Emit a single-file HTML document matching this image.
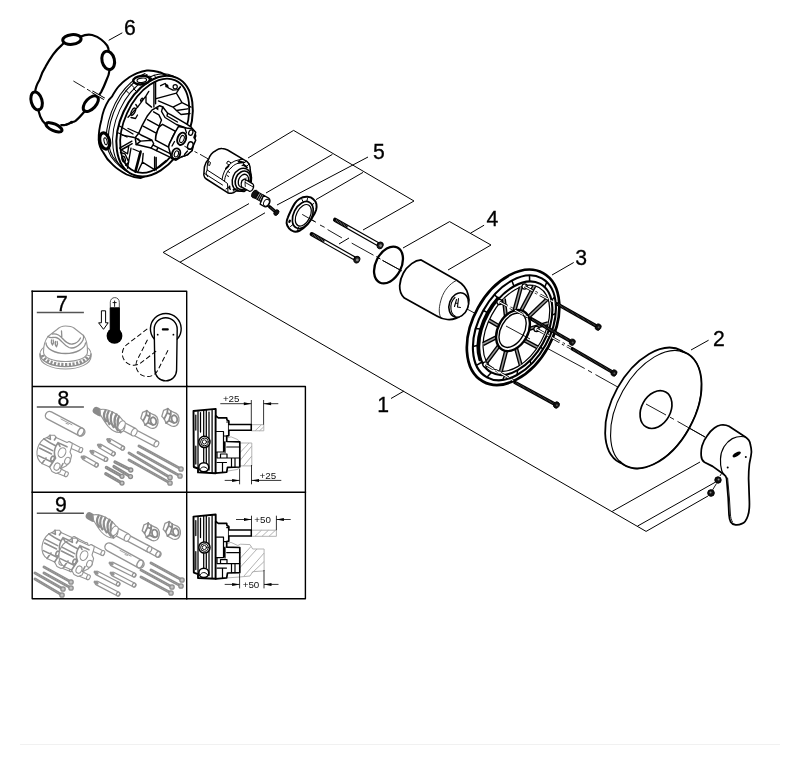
<!DOCTYPE html>
<html><head><meta charset="utf-8"><title>Exploded view</title>
<style>
html,body{margin:0;padding:0;background:#fff;}
body{width:800px;height:765px;overflow:hidden;font-family:"Liberation Sans",sans-serif;}
svg{display:block;filter:grayscale(1)}
.k{stroke:#000;fill:none;stroke-width:1.3;stroke-linecap:round;stroke-linejoin:round}
.t{stroke:#000;fill:none;stroke-width:1;stroke-linecap:butt}
.w{fill:#fff}
.g{stroke:#959595;fill:none;stroke-width:1.1;stroke-linecap:round;stroke-linejoin:round}
.gw{stroke:#959595;fill:#fff;stroke-width:1.1;stroke-linecap:round;stroke-linejoin:round}
.lab{font-family:"Liberation Sans",sans-serif;font-size:21.2px;fill:#000;stroke:#000;stroke-width:0.3px}
.dim{font-family:"Liberation Sans",sans-serif;font-size:9.8px;fill:#111}
.cl{stroke:#000;fill:none;stroke-width:0.8;stroke-dasharray:14 3 3 3}
</style></head>
<body>
<svg width="800" height="765" viewBox="0 0 800 765">
<rect width="800" height="765" fill="#fff"/>
<line x1="20" y1="744.5" x2="780" y2="744.5" stroke="#f1f1f1" stroke-width="1"/>

<!-- ===== bracket / leader lines ===== -->
<g class="t" id="leaders">
<path d="M163.1 252.4 L646.1 531.4"/>
<path d="M163.1 252.4 L249 203.6"/>
<path d="M180 262.2 L265 212.8"/>
<path d="M646.1 531.4 L708 496"/>
<path d="M637.5 526.1 L715 482.4"/>
<path d="M612.2 511.4 L700 462"/>
<path d="M391 398.5 L404 391"/>
<path d="M248 158 L293.6 130.4 L414 201 L363 230"/>
<path d="M349 238 L339 244"/>
<path d="M266 193 L332.4 154.4"/>
<path d="M277 205 L368 157"/>
<path d="M363 172.4 L316 199.6"/>
<path d="M403 248 L449.6 221.6 L491 245 L448 270"/>
<path d="M470.5 233.2 L484.1 225.2"/>
<path d="M552 275 L573.7 262.5"/>
<path d="M691 350 L708.6 340.2"/>
</g>

<!-- ===== labels ===== -->
<g class="lab">
<text x="123.9" y="34.9">6</text>
<text x="372.9" y="159">5</text>
<text x="486.4" y="225.7">4</text>
<text x="575.2" y="264.7">3</text>
<text x="712.9" y="345.9">2</text>
<text x="377.2" y="411.9">1</text>
<text x="56" y="311.2">7</text>
<text x="57.4" y="406">8</text>
<text x="55" y="512.3">9</text>
</g>

<!-- ===== inset boxes ===== -->
<g class="k" style="stroke-width:1.4;stroke-linecap:square">
<path d="M32.2 291.3 H186.7 V386"/>
<path d="M32.2 291.3 V598.8 H305.4 V386.5 H32.2"/>
<path d="M32.2 492.3 H305.4"/>
<path d="M186.7 386 V598.8"/>
</g>
<g class="t" style="stroke-width:1.3;stroke:#555">
<path d="M36.8 312.5 H83.9"/>
<path d="M36.8 407 H83.9"/>
<path d="M36.8 513.25 H83.9"/>
</g>

<!-- ===== axis centre line ===== -->
<g class="t" id="axis" style="stroke-width:0.9">
<path d="M73.4 81 L84.7 87.7 M87 89.2 L90.7 91.4"/>
<path d="M194.5 151.5 L197.5 153 M200 154.3 L208 158.8"/>
<path d="M302 214.5 L315.6 222 M320 225 L324.6 227.3 M327.6 229.6 L341.9 237.9 M351.7 243.1 L373.5 255.2 M376.5 256.7 L380.3 259 M382.5 260.4 L402 271"/>
<path d="M467 309 L475 313.3"/>
<path d="M617 386.5 L646 404 L666 415 M670 417.2 L674 419.4 M677.5 421.4 L705 437"/>
</g>

<!-- ===== O-ring (4) ===== -->
<ellipse cx="388.5" cy="265" rx="12.8" ry="19.6" transform="rotate(27 388.5 265)" class="k" style="stroke-width:2.3"/>
<path class="t" style="stroke-width:0.9" d="M376.5 256.7 L380.3 259 M382.5 260.4 L400 270"/>

<!-- ===== sleeve (4) ===== -->
<g id="sleeve">
<path class="k w" style="stroke-width:1.75" d="M421.1 259.9 L456.7 280.3 C463 284 467 289 468.2 295 C469.2 298 469.2 301 468.2 304.4 C467.5 309 465 312.5 461.9 314.8 C458 318 453 320 447.3 319.5 C443 319 439.5 317.5 436.8 315.9 L404.4 298.1 C401 295 399.5 290.5 399.7 285.6 C400 281 401.2 277 403.4 273 C405.5 269 408.5 266 411.7 263.6 C414.5 261.5 418 260 421.1 259.9 Z"/>
<path d="M456.7 280.3 C449 284 444 291 441.6 298 C439 306 438.5 312 440.5 317.3" stroke="#222" stroke-width="0.9" fill="none"/>
<ellipse cx="458.7" cy="305" rx="9.4" ry="12.6" transform="rotate(20 458.7 305)" class="k w" style="stroke-width:1.6"/>
<path class="k" style="stroke-width:1.1" d="M455 297.5 C452 300 450.5 305 451 309.5 C451.5 312.5 453 315 455 316"/>
<path class="k" style="stroke-width:1.1" d="M456.5 299.5 L454.5 306.5 M458.5 298.5 L457.5 307 L460.5 307.5 M455.5 303 L458 303.5"/>
</g>


<!-- ===== bolts (5) ===== -->
<path d="M335.1 219.8 L378.4 244.4" stroke="#000" stroke-width="4.2" stroke-linecap="round" fill="none"/>
<path d="M347.7 227 L377.1 243.7" stroke="#fff" stroke-width="1.9" stroke-linecap="butt" fill="none"/>
<path d="M336 220.3 L347.7 227" stroke="#888" stroke-width="2.2" stroke-dasharray="0.6 1.0" fill="none"/>
<ellipse cx="380.2" cy="245.4" rx="2.7" ry="3.4" transform="rotate(29.6 380.2 245.4)" fill="#222" stroke="#000" stroke-width="1"/>
<circle cx="380.6" cy="245.6" r="1.4" fill="#8a8a8a"/>
<path d="M311.8 234.1 L355.1 258.7" stroke="#000" stroke-width="4.2" stroke-linecap="round" fill="none"/>
<path d="M324.4 241.3 L353.8 258" stroke="#fff" stroke-width="1.9" stroke-linecap="butt" fill="none"/>
<path d="M312.7 234.6 L324.4 241.3" stroke="#888" stroke-width="2.2" stroke-dasharray="0.6 1.0" fill="none"/>
<ellipse cx="356.9" cy="259.7" rx="2.7" ry="3.4" transform="rotate(29.6 356.9 259.7)" fill="#222" stroke="#000" stroke-width="1"/>
<circle cx="357.3" cy="259.9" r="1.4" fill="#8a8a8a"/>

<!-- ===== cover plate (2) ===== -->
<g id="cover">
<ellipse cx="650.6" cy="406.6" rx="38" ry="64" transform="rotate(29 650.6 406.6)" class="k w" style="stroke-width:1.8"/>
<ellipse cx="656" cy="409.5" rx="38" ry="64" transform="rotate(29 656 409.5)" class="k w" style="stroke-width:1.1"/>
<path class="k" style="stroke-width:1.8" d="M680.8 351.2 A38 64 29 1 1 619.7 461.4"/>
<ellipse cx="656" cy="409.6" rx="14.5" ry="20" transform="rotate(29 656 409.6)" class="k w" style="stroke-width:1.7"/>
<path class="t" style="stroke-width:0.9" d="M646 404 L666 415 M670 417.2 L674 419.4 M677.5 421.4 L705 437"/>
</g>


<!-- ===== handle ===== -->
<g id="handle">
<path class="k w" style="stroke-width:1.75" d="M720.8 425 C724 424.6 727 425.2 729 426.3 L745.4 437 C748.5 439 750 441.5 750.3 444.3 C751 447 751.6 450 751.4 452.5 C751 457 750 460 749.4 464 C748.8 469 748.6 473 748.6 478.6 L749.4 501.5 C749.6 508 749.3 512 747.8 516 C746.5 520 744.5 522.8 742 523.6 C740 524.6 737.5 525.2 735.6 524.9 C733.5 524.5 731.6 523.6 730.7 522 C729.6 520 729.2 517.5 729 514.6 L728.2 498 L726.6 478.6 C726.2 476.5 725.5 475.5 724 474.5 L712.7 466.4 L704.5 462.3 C702.5 461 701.3 458.5 701.2 455.8 C701 452.5 701.2 449 702 446 C703 442.5 704.7 439 707 436 C709 433 711.5 430 714.3 428 C716.5 426.3 718.6 425.3 720.8 425 Z"/>
<path class="k" style="stroke-width:1.2" d="M745.4 437 C741 436 736.5 436.6 732.3 438.6 C729 440.4 726.2 443.2 724 446.8 C721.8 450.5 720.6 454.7 720.5 459 C720.3 463.2 720.6 467 721.7 470.5 C722.3 472.4 723 473.6 724 474.5"/>
<path class="k" style="stroke-width:0.9" d="M727.6 478 L729.4 498 L730.4 514 C730.6 517.5 731.2 520 732.4 521.8"/>
<ellipse cx="736.7" cy="454.4" rx="4.6" ry="1.9" transform="rotate(-30 736.7 454.4)" fill="#000"/>
<circle cx="745.8" cy="457" r="1" fill="#000"/>
<circle cx="727.7" cy="467.5" r="1" fill="#000"/>
<path class="t" style="stroke-width:0.9" d="M721.5 473.5 L720 476 M716.5 483.5 L712.5 490"/>
<circle cx="718" cy="480" r="3.2" fill="#111" stroke="#000" stroke-width="1"/>
<circle cx="718.6" cy="479.4" r="1" fill="#888"/>
<circle cx="711" cy="493" r="3.3" fill="#111" stroke="#000" stroke-width="1"/>
<circle cx="710.5" cy="492.5" r="1" fill="#888"/>
</g>

<!-- ===== mounting plate (3) ===== -->
<g id="plate">
<path class="t" style="stroke-width:0.9" d="M505 325 L547 348.2 L584.7 368.5 M588 370.4 L592 372.6 M595.5 374.6 L617 386.6"/>
<ellipse cx="513.1" cy="327.3" rx="40.2" ry="62" transform="rotate(29 513.1 327.3)" class="k w" style="stroke-width:2.7"/>
<ellipse cx="514.4" cy="327.8" rx="35.6" ry="56.6" transform="rotate(29 514.4 327.8)" class="k" style="stroke-width:2.1"/>
<ellipse cx="515.8" cy="328.2" rx="31" ry="50.6" transform="rotate(29 515.8 328.2)" class="k" style="stroke-width:2.1"/>
<path class="k" style="stroke-width:2.6" d="M479.7 359.9 A32.4 52.2 29 0 1 497.8 297.8"/>
<ellipse cx="516.4" cy="328.2" rx="28" ry="46.6" transform="rotate(29 516.4 328.2)" class="k" style="stroke-width:1.2"/>
<path d="M521.1 310.8 L534.4 285.7" stroke="#000" stroke-width="4.2" fill="none"/>
<path d="M521.1 310.8 L534.4 285.7" stroke="#9a9a9a" stroke-width="1.5" fill="none"/>
<path d="M528.2 317.2 L547.8 298.6" stroke="#000" stroke-width="4.2" fill="none"/>
<path d="M528.2 317.2 L547.8 298.6" stroke="#9a9a9a" stroke-width="1.5" fill="none"/>
<path d="M528.9 328.9 L548.1 323.3" stroke="#000" stroke-width="4.2" fill="none"/>
<path d="M528.9 328.9 L548.1 323.3" stroke="#9a9a9a" stroke-width="1.5" fill="none"/>
<path d="M524.1 340.1 L537.5 347.3" stroke="#000" stroke-width="4.2" fill="none"/>
<path d="M524.1 340.1 L537.5 347.3" stroke="#9a9a9a" stroke-width="1.5" fill="none"/>
<path d="M516 348 L520.6 364.8" stroke="#000" stroke-width="4.2" fill="none"/>
<path d="M516 348 L520.6 364.8" stroke="#9a9a9a" stroke-width="1.5" fill="none"/>
<path d="M506.2 350.5 L500.9 371.1" stroke="#000" stroke-width="4.2" fill="none"/>
<path d="M506.2 350.5 L500.9 371.1" stroke="#9a9a9a" stroke-width="1.5" fill="none"/>
<path d="M498.9 345.8 L486.8 361.9" stroke="#000" stroke-width="4.2" fill="none"/>
<path d="M498.9 345.8 L486.8 361.9" stroke="#9a9a9a" stroke-width="1.5" fill="none"/>
<path d="M496.6 337.2 L483.1 344" stroke="#000" stroke-width="4.2" fill="none"/>
<path d="M496.6 337.2 L483.1 344" stroke="#9a9a9a" stroke-width="1.5" fill="none"/>
<path d="M499 326.2 L489 320.4" stroke="#000" stroke-width="4.2" fill="none"/>
<path d="M499 326.2 L489 320.4" stroke="#9a9a9a" stroke-width="1.5" fill="none"/>
<path d="M505.9 316.2 L503.8 298.7" stroke="#000" stroke-width="4.2" fill="none"/>
<path d="M505.9 316.2 L503.8 298.7" stroke="#9a9a9a" stroke-width="1.5" fill="none"/>
<path d="M514.3 311.1 L520.9 287" stroke="#000" stroke-width="4.2" fill="none"/>
<path d="M514.3 311.1 L520.9 287" stroke="#9a9a9a" stroke-width="1.5" fill="none"/>
<path d="M544.7 287.2 L546.8 282" stroke="#000" stroke-width="1.5" fill="none"/>
<path d="M551.4 300.6 L554.7 297.1" stroke="#000" stroke-width="1.5" fill="none"/>
<path d="M552.1 315.1 L555.6 313.5" stroke="#000" stroke-width="1.5" fill="none"/>
<path d="M548.3 331.3 L551.6 331.7" stroke="#000" stroke-width="1.5" fill="none"/>
<path d="M540.7 347 L543 349.3" stroke="#000" stroke-width="1.5" fill="none"/>
<path d="M530 360.5 L531 364.4" stroke="#000" stroke-width="1.5" fill="none"/>
<path d="M517.6 370.1 L517 375" stroke="#000" stroke-width="1.5" fill="none"/>
<path d="M505 374.7 L502.7 380" stroke="#000" stroke-width="1.5" fill="none"/>
<path d="M491.3 372.5 L487 377.3" stroke="#000" stroke-width="1.5" fill="none"/>
<path d="M482.1 362 L476.4 365.4" stroke="#000" stroke-width="1.5" fill="none"/>
<path d="M479.3 345.1 L472.9 346.4" stroke="#000" stroke-width="1.5" fill="none"/>
<path d="M481.9 329.2 L475.8 328.5" stroke="#000" stroke-width="1.5" fill="none"/>
<path d="M488.7 313.2 L483.3 310.5" stroke="#000" stroke-width="1.5" fill="none"/>
<path d="M498.7 298.9 L494.5 294.7" stroke="#000" stroke-width="1.5" fill="none"/>
<path d="M514 286.3 L511.8 280.6" stroke="#000" stroke-width="1.5" fill="none"/>
<path d="M529.6 281.5 L529.5 275.4" stroke="#000" stroke-width="1.5" fill="none"/>
<ellipse cx="513" cy="330.5" rx="15" ry="22" transform="rotate(29 513 330.5)" class="k w" style="stroke-width:2.4"/>
<ellipse cx="512.6" cy="330.2" rx="11.6" ry="18.6" transform="rotate(29 512.6 330.2)" class="k" style="stroke-width:1.4"/>
<!-- bolt holes -->
<circle cx="524.6" cy="286.5" r="2.6" class="k w" style="stroke-width:1.2"/>
<circle cx="499.5" cy="302" r="2.6" class="k w" style="stroke-width:1.2"/>
<circle cx="536.5" cy="329" r="2.6" class="k w" style="stroke-width:1.2"/>
<circle cx="485.5" cy="364.5" r="2.6" class="k w" style="stroke-width:1.2"/>
<path class="t" style="stroke-width:0.9" d="M506 326 L530 339"/>
</g>
<path d="M524.6 286.5 L556.8 303.8" stroke="#000" stroke-width="2.6" stroke-dasharray="9 3 2.5 3" fill="none"/><path d="M524.6 286.5 L556.8 303.8" stroke="#fff" stroke-width="1.2" stroke-dasharray="9 3 2.5 3" fill="none"/>
<path d="M499.5 302 L531.3 318.9" stroke="#000" stroke-width="2.6" stroke-dasharray="9 3 2.5 3" fill="none"/><path d="M499.5 302 L531.3 318.9" stroke="#fff" stroke-width="1.2" stroke-dasharray="9 3 2.5 3" fill="none"/>
<path d="M536.5 329 L572.6 349" stroke="#000" stroke-width="2.6" stroke-dasharray="9 3 2.5 3" fill="none"/><path d="M536.5 329 L572.6 349" stroke="#fff" stroke-width="1.2" stroke-dasharray="9 3 2.5 3" fill="none"/>
<path d="M485.5 364.5 L515 381.5" stroke="#000" stroke-width="2.6" stroke-dasharray="9 3 2.5 3" fill="none"/><path d="M485.5 364.5 L515 381.5" stroke="#fff" stroke-width="1.2" stroke-dasharray="9 3 2.5 3" fill="none"/>
<path d="M556.8 303.8 L596.5 326.1" stroke="#000" stroke-width="3.6" stroke-linecap="round" fill="none"/>
<path d="M557.7 304.3 L596.5 326.1" stroke="#666" stroke-width="1.6" stroke-dasharray="0.5 0.9" fill="none"/>
<ellipse cx="598.2" cy="327.1" rx="2.8" ry="3.3" transform="rotate(29.4 598.2 327.1)" fill="#111" stroke="#000" stroke-width="0.8"/>
<circle cx="598.6" cy="327.3" r="1" fill="#555"/>
<path d="M531.3 318.9 L570.6 341.2" stroke="#000" stroke-width="3.6" stroke-linecap="round" fill="none"/>
<path d="M532.2 319.4 L570.6 341.2" stroke="#666" stroke-width="1.6" stroke-dasharray="0.5 0.9" fill="none"/>
<ellipse cx="572.3" cy="342.2" rx="2.8" ry="3.3" transform="rotate(29.6 572.3 342.2)" fill="#111" stroke="#000" stroke-width="0.8"/>
<circle cx="572.7" cy="342.4" r="1" fill="#555"/>
<path d="M572.6 349 L612.3 372" stroke="#000" stroke-width="3.6" stroke-linecap="round" fill="none"/>
<path d="M573.5 349.5 L612.3 372" stroke="#666" stroke-width="1.6" stroke-dasharray="0.5 0.9" fill="none"/>
<ellipse cx="614" cy="373" rx="2.8" ry="3.3" transform="rotate(30.1 614 373)" fill="#111" stroke="#000" stroke-width="0.8"/>
<circle cx="614.4" cy="373.3" r="1" fill="#555"/>
<path d="M515 382.5 L554.8 404.1" stroke="#000" stroke-width="3.6" stroke-linecap="round" fill="none"/>
<path d="M515.9 383 L554.8 404.1" stroke="#666" stroke-width="1.6" stroke-dasharray="0.5 0.9" fill="none"/>
<ellipse cx="556.5" cy="405" rx="2.8" ry="3.3" transform="rotate(28.5 556.5 405)" fill="#111" stroke="#000" stroke-width="0.8"/>
<circle cx="556.9" cy="405.2" r="1" fill="#555"/>

<!-- ===== housing ===== -->
<g id="housing">
<!-- body silhouette -->
<path class="k w" style="stroke-width:1.9" d="M146.9 70.5 C143 71 140 72 137.2 73.1 C133 75 130 76.5 127.6 78.4 C124 81 121 83.5 118.9 86.2 C116 89.5 114 93 111.9 96.7 L108.8 100 C105 106 102.5 113 101.4 120 C99.5 127 98.5 134 98.7 140 C99 145 100.5 149 103.3 152.5 C105.5 157 109 161.5 112.9 164.9 C117 169 122 172 126.6 174.5 C131 176.5 136 177.8 140.4 178 L160 170 L190 110 L185 85 L167.5 76.4 C164 74 161 72.5 158.7 72 C155 70.8 151 70.3 146.9 70.5 Z"/>
<!-- side grooves -->
<path class="k" style="stroke-width:1.1" d="M145 73.5 C136 77.5 127 85 120 95 C113 106 108.5 118 106.8 130 C105.5 140 106.5 149 111 156.5 C116 164 124 170.5 134 175"/>
<path class="k" style="stroke-width:1.1" d="M147 74.5 C138 78.5 129 86 122 96 C115 107 110.5 119 108.8 131 C107.5 141 108.5 149.5 113 157 C118 164.5 126 171 136 175.8"/>
<ellipse cx="150.8" cy="124.2" rx="34.2" ry="53.1" transform="rotate(24.8 150.8 124.2)" class="k" style="stroke-width:1"/>
<!-- front rim -->
<ellipse cx="154.6" cy="126.1" rx="34.2" ry="53.1" transform="rotate(24.8 154.6 126.1)" class="k w" style="stroke-width:2"/>
<ellipse cx="154.7" cy="125.7" rx="30.4" ry="49.8" transform="rotate(24.6 154.7 125.7)" class="k" style="stroke-width:1.8"/>
<!-- side ports -->
<ellipse cx="141.6" cy="80.1" rx="8.4" ry="4.2" transform="rotate(-6 141.6 80.1)" class="k w" style="stroke-width:2.5"/>
<ellipse cx="141.8" cy="80.3" rx="4.8" ry="2.2" transform="rotate(-6 141.8 80.3)" class="k" style="stroke-width:1.1"/>
<ellipse cx="104.7" cy="141" rx="4.8" ry="8.2" transform="rotate(-14 104.7 141)" fill="#fff" stroke="#000" stroke-width="3.2"/>
<ellipse cx="105.6" cy="141.3" rx="1.5" ry="3.6" transform="rotate(-14 105.6 141.3)" class="k" style="stroke-width:1"/>
<path class="k" style="stroke-width:1" d="M131 84.5 L134.5 88 M126 90.5 L129 93.5 M133.5 88.5 L137 92 M150 76 L152 79.5 M154.5 75.2 L156 78.5"/>
</g>
<g id="housing-inner" class="k" style="stroke-width:1.35">
<!-- vertical rib top -->
<path d="M153.9 83 L153.9 107.1 M155.6 82.5 L155.6 103.7"/>
<!-- upper right panels -->
<path d="M156.1 98.7 L176.4 93.1 L180.3 86.9 M176.4 93.1 L182 102.6 L191 107.1 M182 102.6 L173 107.1 L158.4 100.9 M173 107.1 L176.4 110.5 L187.6 108.8 M176.4 110.5 L181 114.5 L190 113.5"/>
<path d="M160.6 85.7 L165.1 83.5 L168.5 88 L173 90.2 L177.5 89.7 L180.3 86.9"/>
<circle cx="166.8" cy="85.9" r="1" fill="#000"/>
<circle cx="175.2" cy="86.7" r="2.1" style="stroke-width:1.2"/>
<!-- left rim slots -->
<path d="M148.8 91.4 L146 95.9 L137.6 107.1 L128 117.2 M146 95.9 L146 102.6 L151.6 107.1 M141.5 98.6 C142.3 97.6 143.3 98.2 142.8 99.6 C142.3 101 141 101.8 140.6 101 C140.3 100.3 140.8 99.4 141.5 98.6 Z" />
<path d="M132.5 109.5 C134 107.3 136.3 107.6 135.6 110.2 C134.8 113 132.6 115.8 131.2 115.2 C130 114.6 131.2 111.5 132.5 109.5 Z"/>
<path d="M137.6 107.1 L135.8 104.5 M131 117.5 L135.5 118.5 L137.5 115 M128 128.5 L138.1 133 M122.4 135.2 L134.2 137.5"/>
<!-- lower-left ribs -->
<path d="M119.6 148.1 L131.9 141.1 M120.6 150.2 L132.2 143.6 M121.5 150 L128.8 146 L127.5 153.8 Z M131 148.1 L127.5 168.2 M143.2 153.4 L142.4 162.1 L153.7 169.1 M154.6 156.9 L154.6 170.5 M156.2 157.5 L156.2 170 M142.4 162.1 L137.5 172.5 M155 169.5 L166 160.4 M120.5 152.5 L124.9 153.8 L128.8 162.1 L125.7 165.2 M133 149 L139 151.5"/>
<path d="M140.6 151.6 L135.4 171.7" style="stroke-width:2.6"/>
<ellipse cx="123.6" cy="159.1" rx="1.6" ry="2.9" transform="rotate(-15 123.6 159.1)"/>
<path d="M119.5 126 L133 134 M118.5 133 L127 137"/>
</g>
<g id="boss">
<!-- rear flange -->
<path class="k w" style="stroke-width:1.5" d="M151.9 110.1 L159.7 105.7 L162.8 107 L167.6 113.1 L171.1 114.9 L186 123.6 L191.2 127.1 L194.7 131.5 L195.7 136 L194 141 L192.5 148 L188 154.5 L181.7 156.7 L172 158.2 L156.4 150.6 L151.1 148.1 L136.2 144.6 L135.2 137.6 L138.7 133.2 L142.2 125.4 L147.5 115.7 Z"/>
<path class="k" style="stroke-width:1.4" d="M153.6 111.8 L158.9 114.9 L161.5 120.1 L159.7 124.5 L156.2 135 M162.8 107 L161.5 111.4 L165 117.5 L176.4 124.5 L186 128 M147.5 119.7 L158 125.4 M143.1 126.2 L156.2 133.2 M138.7 133.2 L141 135 L152 140.2 L153.7 143.7 L151.1 148.1 M140.6 141.1 L152 140.2 M135.4 137.6 L140.6 141.1 L136.2 144.6 M167.6 113.1 L167 116 L177.5 122 M153.7 145.4 L171.2 154.1 M156.4 150.6 L158 147.6"/>
<path d="M155.5 108.5 L158.4 107 L158.3 110.4 Z" fill="#000" stroke="none"/>
<circle cx="138.4" cy="139.4" r="1" fill="#000" stroke="none"/>
<!-- main cylinder -->
<path class="k w" style="stroke-width:1.6" d="M162.5 124.4 C159.5 126 158 128.5 157.2 131.4 C156 134.5 155.5 137.5 155.5 140.1 L168.6 147.1 C169 144.5 170 142 171.2 140.1 C172.5 137 174 134 175.6 131.4 Z"/>
<!-- front face -->
<path class="k w" style="stroke-width:1.5" d="M175.6 131.4 L178.5 126.5 L186.1 127.9 L192.2 128.7 L195.7 132.2 L194 137.5 L195.7 140.1 L193.1 146.2 L192.2 150.6 L187 155 L181.7 156.7 L176 160.2 L171.5 158.5 L170.4 154 L168.6 147.1 C169 144.5 170 142 171.2 140.1 Z"/>
<ellipse cx="181.7" cy="138.8" rx="4.2" ry="6.4" transform="rotate(20 181.7 138.8)" class="k w" style="stroke-width:1.9"/>
<ellipse cx="182" cy="139" rx="2" ry="3.8" transform="rotate(20 182 139)" class="k" style="stroke-width:1.1"/>
<ellipse cx="176.1" cy="153.7" rx="4" ry="5.4" transform="rotate(20 176.1 153.7)" class="k w" style="stroke-width:1.9"/>
<ellipse cx="176.4" cy="153.9" rx="2" ry="3.2" transform="rotate(20 176.4 153.9)" class="k" style="stroke-width:1.1"/>
<ellipse cx="190.3" cy="145.6" rx="2.6" ry="3.8" transform="rotate(20 190.3 145.6)" class="k w" style="stroke-width:1.5"/>
<ellipse cx="190.8" cy="132.6" rx="2" ry="2.8" transform="rotate(20 190.8 132.6)" class="k w" style="stroke-width:1.3"/>
<path class="k" style="stroke-width:1.3" d="M185 128 L186.5 133 M187.5 151 L184.5 154.5 M172 146 L174.5 141.5"/>
<path class="t" style="stroke-width:0.9" d="M184.4 146.2 L193 150.7"/>
</g>


<!-- ===== cartridge ===== -->
<g id="cartridge">
<path class="k w" style="stroke-width:1.5" d="M208.8 158.8 C210 155 213 152 215.7 150.7 C218 149 220 148.3 222 148.5 C224 148.6 226 149.2 227.6 150 L243.3 159.4 C246 160.6 248 162 249 163.8 C250 166 250.3 168 250.2 170 L251.5 177.6 C251.6 181 251 183.5 250.2 185 C249 188 247 190 244 191.5 L236.4 190.8 C234.5 192.5 233 193.2 231.4 193.3 C230 193.4 228.8 193.2 227.6 192.7 L206.3 179 C204.8 178 204 176.5 203.8 175 L204.4 167 C205.2 163.5 206.6 161 208.8 158.8 Z"/>
<path class="k" style="stroke-width:1" d="M208.8 158.8 C207.5 162 207 166 207.2 170 L206 173 L207.5 176.5 M207.2 170 L222 179.5 L227.5 183.5 L228 192.5 M204.5 173.5 L222.5 185 M222 179.5 C223 173 225.5 168 229 165 M229 165 L226.5 163.3 L228 161 L231 162.8 M229 165 C232 161.5 237 159.5 243.3 159.4 M231 168 C234 164 239 162.2 245 162.5 M224.5 181 C225 176 227 171 231 168 M209 161.5 L210.5 162.5 L209.6 165.5 L208 164.8 Z M239.5 160.5 L241 158.5 M244 163 L246 160.8 M247 166 L249 164 M238 163.2 L241.5 162.8 M242 165.5 L246.5 166" />
<path class="k" style="stroke-width:1.8" d="M238.5 161.5 L243.5 162.5 M243.5 164.5 L247 167.5 M226 168.5 L228.5 166 M229.5 186.5 L229.5 188.5 M233.5 189.8 L235.5 188.2"/>
<ellipse cx="241.6" cy="179.6" rx="9" ry="11.8" transform="rotate(24 241.6 179.6)" class="k w" style="stroke-width:1.5"/>
<ellipse cx="242.8" cy="180.3" rx="7.2" ry="9.6" transform="rotate(24 242.8 180.3)" class="k" style="stroke-width:1.6"/>
<ellipse cx="243.4" cy="180.8" rx="4.8" ry="6.8" transform="rotate(24 243.4 180.8)" class="k" style="stroke-width:1.3"/>
<path class="k w" style="stroke-width:1.3" transform="translate(-1.6 1)" d="M243.6 179.6 L246 178 L254 182.6 C255.2 183.6 255.4 186 254.6 187.8 C253.8 189.6 252.5 190.6 251 190.3 L243 185.8 C242.5 183.5 242.7 181.5 243.6 179.6 Z"/>
<path class="k" style="stroke-width:0.9" d="M246 178 C245 180 244.8 183 245.3 186.5 M245.3 182.5 L253.5 187.2"/>
<path class="k" style="stroke-width:1" d="M226 189 L229 187 L230.5 189.5 M233 191.5 L236 188.5 L238.5 190.5 M228 171.5 L229.5 172.5 M227 175.5 L228.6 176.4"/>
</g>
<!-- knurled adapter -->
<g id="knurl" transform="translate(0.6 2.9)">
<path d="M255.5 192 L262.5 196" stroke="#000" stroke-width="8" fill="none"/>
<path d="M255.5 192 L262.5 196" stroke="#bbb" stroke-width="6" stroke-dasharray="0.8 1.1" fill="none"/>
<path class="k w" style="stroke-width:1.3" d="M263 192.3 L268 195.2 C269.5 196.5 269.6 199 268.6 201 C267.6 203 265.8 204.3 264 203.8 L259.5 201.2 Z"/>
<ellipse cx="265.8" cy="199.8" rx="2.6" ry="3.6" transform="rotate(28 265.8 199.8)" class="k" style="stroke-width:0.9"/>
<ellipse cx="254.2" cy="191.2" rx="2.8" ry="4.2" transform="rotate(28 254.2 191.2)" fill="#111" stroke="#000" stroke-width="0.8"/>
</g>
<!-- small screw -->
<g id="screw5">
<path d="M269.6 206.8 L275.5 211.8" stroke="#000" stroke-width="3.2" stroke-linecap="round" fill="none"/>
<path d="M270.5 207.5 L274.5 211" stroke="#666" stroke-width="1.4" stroke-dasharray="0.6 0.8" fill="none"/>
<ellipse cx="276.4" cy="212.6" rx="2.2" ry="3.1" transform="rotate(35 276.4 212.6)" fill="#111" stroke="#000" stroke-width="0.8"/>
</g>

<!-- ===== flange ring (5) ===== -->
<g id="ring5">
<path class="k w" style="stroke-width:2" d="M299.2 199 C302 197.3 305 196.6 307.3 196.8 C310 197 312 197.8 313.1 199 C315 200.5 316.2 202.3 316.4 204.1 C316.8 206 316.6 208 316.1 210 C315.3 212.5 314 215 312.4 217.3 C311 220 309 222.5 307.3 224.6 C305 227 302.5 229 300 230.5 C298 231.5 296 231.9 294.1 231.6 C292 231 290.3 229.8 289 228.3 C287.6 226.8 286.8 225 286.6 223.1 C286.5 221 287 219.3 287.9 217.3 C288.8 214.8 290 212.5 291.2 210 C292.2 207.8 293.5 205.5 294.8 203.4 C296 201.6 297.5 200 299.2 199 Z"/>
<ellipse cx="302.8" cy="215" rx="9.2" ry="14.4" transform="rotate(27 302.8 215)" class="k w" style="stroke-width:1.7"/>
<ellipse cx="303.3" cy="215.3" rx="6.8" ry="11.6" transform="rotate(27 303.3 215.3)" class="k" style="stroke-width:1.2"/>
<path class="k" style="stroke-width:1" d="M302 199.5 L303.5 202.5 M307.5 198.5 L306.8 201.5 M313.8 203.5 L311.5 205 M290.5 226.5 L293 224.5 M297.5 230.5 L298.5 227.5"/>
<ellipse cx="289.6" cy="221.3" rx="1.2" ry="1.8" transform="rotate(27 289.6 221.3)" fill="#000"/>
<path class="t" style="stroke-width:0.9" d="M302.2 214.4 L315.6 222"/>
</g>

<!-- ===== gasket (6) ===== -->
<g id="gasket" class="k" style="stroke-width:2.2">
<path d="M81 36.6 C85 34.6 89 34.4 92.2 35 C96 36 99 37.6 101.2 39.5 C104 41.8 106 43.8 107.2 45.6 C108.3 47.5 108.8 49.5 108.7 51.6"/>
<path d="M109.6 69.5 C109.3 73 108 77 106.5 80 C105 84 103 88.5 101.2 92 C100 94 98.8 95.4 97.6 96.6"/>
<path d="M84.5 111.5 C82 114.5 79 118 75.6 120.8 C74.5 121.6 73.2 122 71.9 122 C69.5 123.5 67 124.5 65 125 C63.5 125.3 62.3 125.3 61.2 125"/>
<path d="M46.5 124.5 C45 123.5 43.7 122.3 42.6 120.8 C40.6 118 39.5 115 38.8 111.7 C38.5 110.6 38.6 110 38.7 109.4"/>
<path d="M35.2 92 C35.4 88 37 84 39.5 80 C41 75 43 70.5 45.6 66.6 C47.8 62.5 50.3 58.4 53 54.6 C55.6 51 58.7 47.6 62 44.8 C62.8 44 63.6 43.3 64.4 42.8"/>
<ellipse cx="71.9" cy="39.5" rx="9.2" ry="4.8" transform="rotate(-6 71.9 39.5)" style="stroke-width:3"/>
<ellipse cx="108.2" cy="60.4" rx="6.2" ry="9.3" transform="rotate(-14 108.2 60.4)" style="stroke-width:3"/>
<ellipse cx="90.8" cy="103.6" rx="9.6" ry="5.2" transform="rotate(-47 90.8 103.6)" style="stroke-width:3"/>
<ellipse cx="54" cy="127.3" rx="8.6" ry="3.4" transform="rotate(24 54 127.3)" style="stroke-width:3"/>
<ellipse cx="36.6" cy="101" rx="5.4" ry="9.2" transform="rotate(-16 36.6 101)" style="stroke-width:3"/>
<circle cx="71.6" cy="122.3" r="1.5" fill="#000" stroke="none"/>
<circle cx="66.5" cy="124.6" r="1.2" fill="#000" stroke="none"/>
</g>
<path class="t" style="stroke-width:1" d="M108.7 40.3 L122.3 32.8"/>
<path d="M92 91.6 L104.4 98.9" stroke="#000" stroke-width="2.6" fill="none"/><path d="M91 91 L105.4 99.5" stroke="#fff" stroke-width="1" fill="none"/>

<!-- ===== box 7 ===== -->
<g id="box7">
<!-- grey cap -->
<g class="g" style="stroke-width:1.3;stroke:#8e8e8e">
<path class="gw" d="M40 354 C40 347 51 341.5 65.4 341.5 C80 341.5 91 347 91 354 L91 356.5 C91 363.5 80 369 65.4 369 C51 369 40 363.5 40 356.5 Z"/>
<path d="M40 354 C40 361 51 366.6 65.4 366.6 C80 366.6 91 361 91 354"/>
<path d="M42.5 355 C44 361 54 364.8 65.4 364.8 C77 364.8 87 361 88.5 355" stroke-width="3.6" stroke-dasharray="2.2 1.5" stroke-linecap="butt"/>
<path class="gw" d="M43.5 352 C43.5 345 46 339 48 336.5 L57 329.5 C59.5 327 62 326 65.5 326 C69 326 72 326.5 74 328 L83.5 335.5 C86 338.5 87.5 345 87.5 352 C87.5 358 77.5 361.5 65.4 361.5 C53.5 361.5 43.5 358 43.5 352 Z"/>
<path d="M46 343 C46 348.5 54.5 353.5 65.4 353.5 C76.5 353.5 85 348.5 85.5 343"/>
<path d="M48 336.5 C50 338.5 53 337 56 337.5 C61 338.5 63 345 69 347.5 C73 349 77 347 80.5 343.5 C83 341 84 338 83.5 335.5 M52.5 334 C56 333.5 59.5 335 62.5 338.5 C66 342.5 69 344.5 72.5 344 C76 343.5 79 341 80.5 338 M61.5 331 L61.8 336.5 M51.5 340 C51 342 51.5 344 52.5 345 C53.5 343.5 53.8 341.5 53.2 340 M55.5 341.5 C55 343.5 55.5 345.8 56.5 346.8 C57.6 345.2 57.8 343 57.2 341.5"/>
</g>
<!-- thermometer -->
<path d="M110.3 302.3 C110.3 299.5 112.2 297.6 114.8 297.6 C117.4 297.6 119.3 299.5 119.3 302.3 L119.3 330 L110.3 330 Z" fill="#fff" stroke="#555" stroke-width="1"/>
<path d="M110.3 307.8 H119.3 V331 H110.3 Z" fill="#000" stroke="#000" stroke-width="1"/>
<circle cx="114.5" cy="335.9" r="7.9" fill="#000"/>
<path d="M114.6 300.6 V306.8 M112.6 302.6 H116.6" stroke="#000" stroke-width="0.9" fill="none"/>
<!-- arrow -->
<path d="M101.4 310.8 H105.6 V322.8 H108.2 L103.5 329.3 L98.6 322.8 H101.4 Z" fill="#fff" stroke="#000" stroke-width="1" stroke-linejoin="miter"/>
<!-- ghost levers -->
<g class="k" style="stroke-width:1;stroke-dasharray:5 2.6;stroke-linecap:butt">
<path transform="rotate(52.5 165.8 329.2)" d="M154.3 343.7 L154.3 369.5 A11.5 11.5 0 0 0 177.3 369.5 L177.3 349"/>
<path transform="rotate(27 165.8 329.2)" d="M154.3 347 L154.3 369.5 A11.5 11.5 0 0 0 177.3 369.5 L177.3 345"/>
</g>
<!-- handle front view -->
<path class="k" style="stroke-width:1.4" d="M154.3 339.1 A15.4 15.4 0 1 1 177.3 339.1"/>
<path class="k" style="stroke-width:1.4" d="M154.2 329.2 A11.5 11.5 0 0 1 177.2 329.2 L176.6 370 A10.8 10.8 0 0 1 154.9 370 Z"/>
<rect x="161.8" y="328.2" width="7" height="2.4" rx="1" fill="#000"/>
<circle cx="157.7" cy="334.7" r="0.9" fill="#000"/><circle cx="173.4" cy="334.7" r="0.9" fill="#000"/>
</g>

<!-- ===== side views (8, 9) ===== -->
<defs>
<g id="sideview">
<path class="k w" style="stroke-width:1.9" d="M193.5 411 L215.7 408.9 L215.7 473.2 L198 472.4 L198 468.5 L193.8 467 Z"/>
<path class="k" style="stroke-width:1.25" d="M198 411.5 V468 M203.7 410.5 V436 M206.3 410 V436.5 M203.7 448 V462.5 M206.3 448 V462.5 M212.1 409.5 V472.8 M195.8 415 V430 M195.8 446 V464 M200.5 412.5 V432 M209 412 V470"/>
<circle cx="204.4" cy="441.9" r="5.6" class="k w" style="stroke-width:1.5"/>
<circle cx="204.4" cy="441.9" r="3.8" class="k" style="stroke-width:1"/>
<circle cx="204.4" cy="441.9" r="2.1" class="k" style="stroke-width:0.9"/>
<ellipse cx="203.8" cy="467.3" rx="5" ry="4.6" class="k w" style="stroke-width:1.6"/>
<path class="k" style="stroke-width:1" d="M200 469.5 C201.5 466 206 466 207.8 469.5"/>
<path class="k w" style="stroke-width:1.7" d="M215.7 415.7 L218.3 417.8 L226.7 417.8 L227 420 L228.8 421 L228.8 435.6 L226.7 436 L226.7 441.5 L239.8 441.9 L239.8 467 L227.5 467.4 L226.7 472.2 L215.7 473.2 Z"/>
<path class="k" style="stroke-width:1.2" d="M216.5 431.5 H223.5 V452 H216.5 M223.5 436 H226.7 M225 441.5 V452.5 M217 452 V458 H227 V454 H220.5 V458 M226.7 447 H239.8 M227 458 H239.8 M231.5 458 V467 M235 458 V467 M217 462.5 H226.5 M222.5 462.5 V472.5 M226.7 422 H228.8 M224.5 442 V451"/>
<path d="M228.8 424.5 H251.3 V430.3 H228.8" class="k w" style="stroke-width:1.5"/>
</g>
<path id="arrR" d="M0 0 L-7.5 -1.5 L-7.5 1.5 Z" fill="#000"/>
<path id="arrL" d="M0 0 L7.5 -1.5 L7.5 1.5 Z" fill="#000"/>
</defs>
<g id="box8r">
<g stroke="#aaa" stroke-width="0.9" fill="none">
<path d="M251.3 424.7 H263.8 V430.8 H251.3 M255 430.8 L261.5 424.7 M259.5 430.8 L263.8 426.8"/>
<path d="M227 438 L231 436.8 L237.8 439.6 L239.6 443 H251.8 V465.9 H239.6 L237.8 469.4 L227.3 471.1 M239.6 461 L251.8 446 M239.6 453 L249 443 M243.5 465.9 L251.8 456"/>
</g>
<use href="#sideview"/>
<g class="t" style="stroke-width:0.8">
<path d="M220.3 403.7 H251.3 M251.3 400 V430.8 M263.6 400 V424.7 M263.6 403.7 H278.3"/>
<path d="M224.7 480.4 H239.6 M239.6 468.5 V484.3 M251.5 465 V484.3 M251.5 480.4 H281.3"/>
</g>
<use href="#arrR" x="251.3" y="403.7"/><use href="#arrL" x="263.6" y="403.7"/>
<use href="#arrR" x="239.6" y="480.4"/><use href="#arrL" x="251.5" y="480.4"/>
<text class="dim" x="222.9" y="401.7">+25</text>
<text class="dim" x="259.5" y="479">+25</text>
</g>
<g id="box9r">
<g stroke="#aaa" stroke-width="0.9" fill="none">
<path d="M251.3 530.2 H276.4 V536.3 H251.3 M255 536.3 L261.5 530.2 M262 536.3 L268.5 530.2 M269 536.3 L275.5 530.2"/>
<path d="M227 543.6 L231 542.4 L237.8 545.5 L240.5 544.2 L250 544.6 L252.7 549 H264.1 V570.9 L252.7 571.7 L250 576 L239.6 577 L227.3 577.9 M239.6 568 L257 549 M239.6 559 L251 546.5 M244 576 L264.1 553 M252 573 L264.1 561.5"/>
</g>
<use href="#sideview" y="105.6"/>
<g class="t" style="stroke-width:0.8">
<path d="M236 519.5 H251.5 M251.5 515.7 V536.3 M276.4 515.7 V530.2 M276.4 519.5 H290.7"/>
<path d="M224.7 584.4 H239.6 M239.6 573.5 V588.4 M264 570 V588.4 M264 584.4 H278.5"/>
</g>
<use href="#arrR" x="251.5" y="519.5"/><use href="#arrL" x="276.4" y="519.5"/>
<use href="#arrR" x="239.6" y="584.4"/><use href="#arrL" x="264" y="584.4"/>
<text class="dim" x="254.3" y="522.8">+50</text>
<text class="dim" x="242.7" y="588.4">+50</text>
</g>

<!-- ===== grey part kits (8, 9) ===== -->
<defs>
<g id="clip" class="g" style="stroke-width:1.5;stroke:#8a8a8a">
<path class="gw" d="M-5 -6 L-1.5 -7.5 L1 -5.5 L5.5 -3.5 C8 -2 8.5 2 7 5 C6 7 3.5 7.8 1.5 7 L-3 4.5 L-4.5 1 L-6.5 -1 Z"/>
<path d="M-1.5 -7.5 L-2 -4 L1 -2.5 L1 -5.5 M-2 -4 L-4.5 1 M1 -2.5 L-0.5 2.5 L-3 4.5 M-0.5 2.5 L3.5 4.5"/>
<ellipse cx="4" cy="1.2" rx="2.3" ry="3.2" transform="rotate(-15 4 1.2)"/>
</g>
<g id="spindle" class="g" style="stroke-width:1.4">
<path d="M133 431.6 L156 443.8" stroke-width="7.2" stroke-linecap="butt"/><path d="M133 431.6 L156 443.8" stroke="#fff" stroke-width="4.6" stroke-linecap="butt"/>
<ellipse cx="156.4" cy="444" rx="2.2" ry="3" transform="rotate(28 156.4 444)" class="gw"/>
<path d="M122 425.6 L134 432" stroke-width="9" stroke-linecap="butt"/><path d="M122 425.6 L134 432" stroke="#fff" stroke-width="6.4" stroke-linecap="butt"/>
<ellipse cx="134.2" cy="432.2" rx="2.6" ry="3.9" transform="rotate(28 134.2 432.2)" class="gw"/>
<path d="M96.4 410.6 L100.5 413" stroke="#8a8a8a" stroke-width="7.4" stroke-linecap="round" stroke-dasharray="0.9 0.7"/>
<path class="gw" d="M100 409.6 C104 408.6 110 410.4 114.5 413 C119 415.6 123 419.6 124.6 423.6 C125.8 427.6 124 431.6 120.6 432.4 C116 433 111.5 430 108.4 426.6 C105 422.6 102.4 418 100.6 415 Z"/>
<path d="M105.6 410.4 C103.6 413.4 103.8 418 106 421.4 M108.6 411.4 C106.4 415 106.8 420.4 109.4 424 M112.4 412.4 C109.6 416.6 110.4 423 113.6 427 M116.6 414.4 C113.4 418.6 114 426 117.8 430.4 M119 416.6 C116.6 420.6 117.4 427.6 120.6 432.2" stroke-width="2.3" stroke="#8c8c8c"/>
<ellipse cx="121.6" cy="425.4" rx="3.1" ry="5" transform="rotate(28 121.6 425.4)" class="gw"/>
</g>
<g id="vblock" class="g" style="stroke-width:1.6;stroke:#8e8e8e">
<path class="gw" d="M69 441.6 L80.4 447.4 C82.4 448.6 82.8 451.6 81 452.8 L70 448 Z"/>
<ellipse cx="80.8" cy="450" rx="1.7" ry="2.6" transform="rotate(28 80.8 450)" class="gw"/>
<path class="gw" d="M54 465.5 L66 471.6 C68 472.8 68 476 66 476.8 L53 471.6 Z"/>
<ellipse cx="66.4" cy="474.2" rx="1.7" ry="2.5" transform="rotate(28 66.4 474.2)" class="gw"/>
<path class="gw" d="M37 451.3 C37.6 447 40.4 441.6 43.9 438.8 L47 437.6 L50 435.2 L54.6 435.2 L56 437.4 L67 442.5 L69 441.6 L72.4 443.4 L71.6 447 L70 452 L71.6 455.4 L70 462 L66 466 L62 468 L60 472 L56 473.4 L52 471.6 L49.6 467 L42 463.4 C38.4 461 36.6 456 37 451.3 Z"/>
<path d="M43.9 438.8 C47 441 52 444 56 446 L58 442.6 L67 446.8 M56 446 C54 450 54 454.6 55.6 458 L49.6 467 M40.4 444.4 L52.6 450.6 M38.4 455.6 L51.6 462 M47 437.6 L50.4 439.4 L50 435.2 M56 437.4 L54.4 440 M39.5 448 L51.5 454 M42 463.4 L46 458 M58 442.6 L60 446.5 M60.5 468.5 L63 463.5"/>
<ellipse cx="62" cy="452.6" rx="3.6" ry="5" transform="rotate(24 62 452.6)" class="gw" stroke-width="1.4"/>
<ellipse cx="67.4" cy="460.8" rx="2.6" ry="3.6" transform="rotate(24 67.4 460.8)" class="gw"/>
<ellipse cx="57" cy="466.6" rx="2.8" ry="3.8" transform="rotate(24 57 466.6)" class="gw"/>
<ellipse cx="52.6" cy="458.6" rx="1.6" ry="2.6" transform="rotate(24 52.6 458.6)"/>
</g>
</defs>
<g id="kit8">
<path d="M49.5 415.6 L80.8 431.9" stroke="#959595" stroke-width="9.6" stroke-linecap="round" fill="none"/><path d="M49.5 415.6 L80.8 431.9" stroke="#fff" stroke-width="6.8" stroke-linecap="round" fill="none"/><ellipse cx="80.8" cy="431.9" rx="2.7" ry="4.1" transform="rotate(27.5 80.8 431.9)" fill="#fff" stroke="#959595" stroke-width="1.4"/>
<path class="g" d="M61 419 L72 424.8 M66 423.4 L68.5 424.2" style="stroke-width:0.9"/>
<use href="#vblock"/>
<use href="#spindle"/>
<use href="#clip" transform="translate(148.6 419.6) scale(1.2)"/><use href="#clip" transform="translate(169.6 417.6) scale(1.2)"/>
<path d="M109.8 440.7 L122.6 448.1" stroke="#959595" stroke-width="5.2" stroke-linecap="round" fill="none"/><path d="M109.8 440.7 L122.6 448.1" stroke="#fff" stroke-width="2.6" stroke-linecap="round" fill="none"/><ellipse cx="122.6" cy="448.1" rx="1.5" ry="2" transform="rotate(30.1 122.6 448.1)" fill="#fff" stroke="#959595" stroke-width="1.3"/><path d="M107.6 439.4 L109.8 440.7" stroke="#959595" stroke-width="2.9" stroke-linecap="round" fill="none"/><path d="M100.5 446.3 L113.3 453.8" stroke="#959595" stroke-width="5.2" stroke-linecap="round" fill="none"/><path d="M100.5 446.3 L113.3 453.8" stroke="#fff" stroke-width="2.6" stroke-linecap="round" fill="none"/><ellipse cx="113.3" cy="453.8" rx="1.5" ry="2" transform="rotate(30.4 113.3 453.8)" fill="#fff" stroke="#959595" stroke-width="1.3"/><path d="M98.3 445 L100.5 446.3" stroke="#959595" stroke-width="2.9" stroke-linecap="round" fill="none"/><path d="M93 452.5 L105.8 459.4" stroke="#959595" stroke-width="5.2" stroke-linecap="round" fill="none"/><path d="M93 452.5 L105.8 459.4" stroke="#fff" stroke-width="2.6" stroke-linecap="round" fill="none"/><ellipse cx="105.8" cy="459.4" rx="1.5" ry="2" transform="rotate(28.4 105.8 459.4)" fill="#fff" stroke="#959595" stroke-width="1.3"/><path d="M90.8 451.3 L93 452.5" stroke="#959595" stroke-width="2.9" stroke-linecap="round" fill="none"/><path d="M84.2 458.1 L96.4 465" stroke="#959595" stroke-width="5.2" stroke-linecap="round" fill="none"/><path d="M84.2 458.1 L96.4 465" stroke="#fff" stroke-width="2.6" stroke-linecap="round" fill="none"/><ellipse cx="96.4" cy="465" rx="1.5" ry="2" transform="rotate(29.4 96.4 465)" fill="#fff" stroke="#959595" stroke-width="1.3"/><path d="M82 456.9 L84.2 458.1" stroke="#959595" stroke-width="2.9" stroke-linecap="round" fill="none"/>
<path d="M115 462 L130.8 470" stroke="#8a8a8a" stroke-width="3.3" stroke-linecap="round" fill="none"/><path d="M115 462 L129 469.1" stroke="#b4b4b4" stroke-width="1" stroke-dasharray="0.6 1.4" fill="none"/><circle cx="130.8" cy="470" r="2" fill="#c4c4c4" stroke="#8a8a8a" stroke-width="1.3"/><path d="M114 466.6 L130.5 476.6" stroke="#8a8a8a" stroke-width="3.3" stroke-linecap="round" fill="none"/><path d="M114 466.6 L128.8 475.6" stroke="#b4b4b4" stroke-width="1" stroke-dasharray="0.6 1.4" fill="none"/><circle cx="130.5" cy="476.6" r="2" fill="#c4c4c4" stroke="#8a8a8a" stroke-width="1.3"/><path d="M106.4 467.5 L122 476.3" stroke="#8a8a8a" stroke-width="3.3" stroke-linecap="round" fill="none"/><path d="M106.4 467.5 L120.3 475.3" stroke="#b4b4b4" stroke-width="1" stroke-dasharray="0.6 1.4" fill="none"/><circle cx="122" cy="476.3" r="2" fill="#c4c4c4" stroke="#8a8a8a" stroke-width="1.3"/><path d="M105.8 473.8 L122 483.1" stroke="#8a8a8a" stroke-width="3.3" stroke-linecap="round" fill="none"/><path d="M105.8 473.8 L120.3 482.1" stroke="#b4b4b4" stroke-width="1" stroke-dasharray="0.6 1.4" fill="none"/><circle cx="122" cy="483.1" r="2" fill="#c4c4c4" stroke="#8a8a8a" stroke-width="1.3"/>
<path d="M139 446 L181 469" stroke="#8e8e8e" stroke-width="2.9" stroke-linecap="round" fill="none"/><path d="M139 446 L179.2 468" stroke="#b4b4b4" stroke-width="0.9" stroke-dasharray="0.6 1.4" fill="none"/><circle cx="181" cy="469" r="2.2" fill="#c4c4c4" stroke="#8e8e8e" stroke-width="1.3"/><path d="M138 452.5 L180 476" stroke="#8e8e8e" stroke-width="2.9" stroke-linecap="round" fill="none"/><path d="M138 452.5 L178.3 475" stroke="#b4b4b4" stroke-width="0.9" stroke-dasharray="0.6 1.4" fill="none"/><circle cx="180" cy="476" r="2.2" fill="#c4c4c4" stroke="#8e8e8e" stroke-width="1.3"/><path d="M129 453 L170 477.4" stroke="#8e8e8e" stroke-width="2.9" stroke-linecap="round" fill="none"/><path d="M129 453 L168.3 476.4" stroke="#b4b4b4" stroke-width="0.9" stroke-dasharray="0.6 1.4" fill="none"/><circle cx="170" cy="477.4" r="2.2" fill="#c4c4c4" stroke="#8e8e8e" stroke-width="1.3"/><path d="M129 460 L170 483" stroke="#8e8e8e" stroke-width="2.9" stroke-linecap="round" fill="none"/><path d="M129 460 L168.3 482" stroke="#b4b4b4" stroke-width="0.9" stroke-dasharray="0.6 1.4" fill="none"/><circle cx="170" cy="483" r="2.2" fill="#c4c4c4" stroke="#8e8e8e" stroke-width="1.3"/>
</g>
<g id="kit9">
<path d="M146 547.6 L158 554.2" stroke="#959595" stroke-width="7.2" stroke-linecap="round" fill="none"/><path d="M146 547.6 L158 554.2" stroke="#fff" stroke-width="4.6" stroke-linecap="round" fill="none"/><ellipse cx="158" cy="554.2" rx="2" ry="3" transform="rotate(28.8 158 554.2)" fill="#fff" stroke="#959595" stroke-width="1.3"/>
<use href="#spindle" x="-7" y="105.4"/>
<use href="#clip" transform="translate(150 532) scale(1.2)"/><use href="#clip" transform="translate(171 530.6) scale(1.2)"/>
<use href="#vblock" x="5" y="95"/>
<use href="#vblock" x="22" y="103"/>
<path d="M109 547 L140 564" stroke="#959595" stroke-width="9.6" stroke-linecap="round" fill="none"/><path d="M109 547 L140 564" stroke="#fff" stroke-width="6.8" stroke-linecap="round" fill="none"/><ellipse cx="140" cy="564" rx="2.7" ry="4.1" transform="rotate(28.7 140 564)" fill="#fff" stroke="#959595" stroke-width="1.4"/>
<path class="g" d="M120 550.4 L131 556.2 M125 554.6 L127.5 555.4" style="stroke-width:0.9"/>
<path d="M112.2 564.1 L134 575" stroke="#959595" stroke-width="5.2" stroke-linecap="round" fill="none"/><path d="M112.2 564.1 L134 575" stroke="#fff" stroke-width="2.6" stroke-linecap="round" fill="none"/><ellipse cx="134" cy="575" rx="1.5" ry="2" transform="rotate(26.6 134 575)" fill="#fff" stroke="#959595" stroke-width="1.3"/><path d="M110 563 L112.2 564.1" stroke="#959595" stroke-width="2.9" stroke-linecap="round" fill="none"/><path d="M97.2 573.2 L118 584" stroke="#959595" stroke-width="5.2" stroke-linecap="round" fill="none"/><path d="M97.2 573.2 L118 584" stroke="#fff" stroke-width="2.6" stroke-linecap="round" fill="none"/><ellipse cx="118" cy="584" rx="1.5" ry="2" transform="rotate(27.6 118 584)" fill="#fff" stroke="#959595" stroke-width="1.3"/><path d="M95 572 L97.2 573.2" stroke="#959595" stroke-width="2.9" stroke-linecap="round" fill="none"/><path d="M113.2 574.2 L134 585" stroke="#959595" stroke-width="5.2" stroke-linecap="round" fill="none"/><path d="M113.2 574.2 L134 585" stroke="#fff" stroke-width="2.6" stroke-linecap="round" fill="none"/><ellipse cx="134" cy="585" rx="1.5" ry="2" transform="rotate(27.6 134 585)" fill="#fff" stroke="#959595" stroke-width="1.3"/><path d="M111 573 L113.2 574.2" stroke="#959595" stroke-width="2.9" stroke-linecap="round" fill="none"/><path d="M97.2 583.2 L118 594" stroke="#959595" stroke-width="5.2" stroke-linecap="round" fill="none"/><path d="M97.2 583.2 L118 594" stroke="#fff" stroke-width="2.6" stroke-linecap="round" fill="none"/><ellipse cx="118" cy="594" rx="1.5" ry="2" transform="rotate(27.6 118 594)" fill="#fff" stroke="#959595" stroke-width="1.3"/><path d="M95 582 L97.2 583.2" stroke="#959595" stroke-width="2.9" stroke-linecap="round" fill="none"/>
<path d="M44 567 L71 582" stroke="#8e8e8e" stroke-width="2.9" stroke-linecap="round" fill="none"/><path d="M44 567 L69.3 581" stroke="#b4b4b4" stroke-width="0.9" stroke-dasharray="0.6 1.4" fill="none"/><circle cx="71" cy="582" r="2.2" fill="#c4c4c4" stroke="#8e8e8e" stroke-width="1.3"/><path d="M44 573 L71 588" stroke="#8e8e8e" stroke-width="2.9" stroke-linecap="round" fill="none"/><path d="M44 573 L69.3 587" stroke="#b4b4b4" stroke-width="0.9" stroke-dasharray="0.6 1.4" fill="none"/><circle cx="71" cy="588" r="2.2" fill="#c4c4c4" stroke="#8e8e8e" stroke-width="1.3"/><path d="M35 573 L63 589" stroke="#8e8e8e" stroke-width="2.9" stroke-linecap="round" fill="none"/><path d="M35 573 L61.3 588" stroke="#b4b4b4" stroke-width="0.9" stroke-dasharray="0.6 1.4" fill="none"/><circle cx="63" cy="589" r="2.2" fill="#c4c4c4" stroke="#8e8e8e" stroke-width="1.3"/><path d="M35 579 L62 595" stroke="#8e8e8e" stroke-width="2.9" stroke-linecap="round" fill="none"/><path d="M35 579 L60.3 594" stroke="#b4b4b4" stroke-width="0.9" stroke-dasharray="0.6 1.4" fill="none"/><circle cx="62" cy="595" r="2.2" fill="#c4c4c4" stroke="#8e8e8e" stroke-width="1.3"/>
<path d="M151 563 L182 580" stroke="#8e8e8e" stroke-width="2.9" stroke-linecap="round" fill="none"/><path d="M151 563 L180.2 579" stroke="#b4b4b4" stroke-width="0.9" stroke-dasharray="0.6 1.4" fill="none"/><circle cx="182" cy="580" r="2.2" fill="#c4c4c4" stroke="#8e8e8e" stroke-width="1.3"/><path d="M151 570 L181 586" stroke="#8e8e8e" stroke-width="2.9" stroke-linecap="round" fill="none"/><path d="M151 570 L179.2 585.1" stroke="#b4b4b4" stroke-width="0.9" stroke-dasharray="0.6 1.4" fill="none"/><circle cx="181" cy="586" r="2.2" fill="#c4c4c4" stroke="#8e8e8e" stroke-width="1.3"/><path d="M141 570 L172 587" stroke="#8e8e8e" stroke-width="2.9" stroke-linecap="round" fill="none"/><path d="M141 570 L170.2 586" stroke="#b4b4b4" stroke-width="0.9" stroke-dasharray="0.6 1.4" fill="none"/><circle cx="172" cy="587" r="2.2" fill="#c4c4c4" stroke="#8e8e8e" stroke-width="1.3"/><path d="M141 577 L171 593" stroke="#8e8e8e" stroke-width="2.9" stroke-linecap="round" fill="none"/><path d="M141 577 L169.2 592.1" stroke="#b4b4b4" stroke-width="0.9" stroke-dasharray="0.6 1.4" fill="none"/><circle cx="171" cy="593" r="2.2" fill="#c4c4c4" stroke="#8e8e8e" stroke-width="1.3"/>
</g>

</svg>
</body></html>
